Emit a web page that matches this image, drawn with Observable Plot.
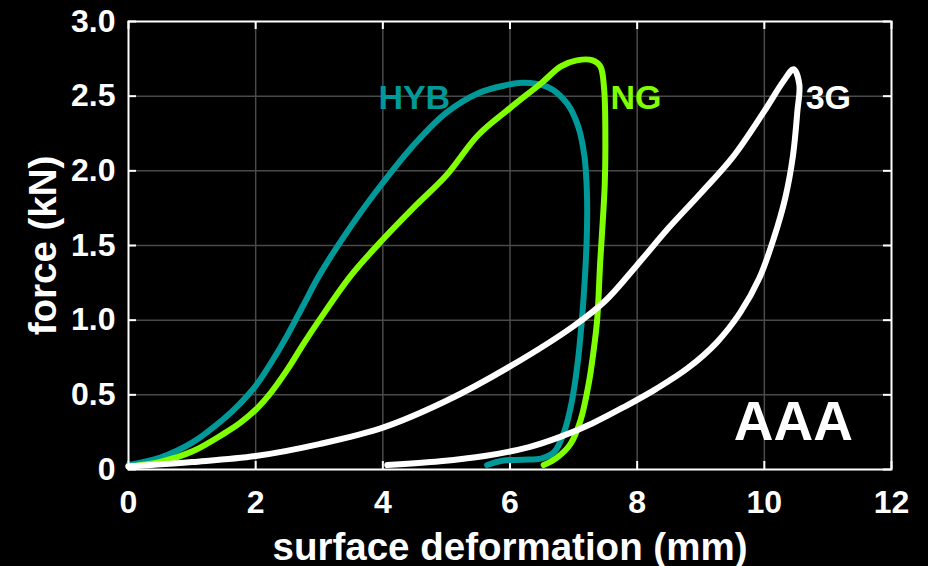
<!DOCTYPE html>
<html>
<head>
<meta charset="utf-8">
<script src="https://cdn.jsdelivr.net/npm/d3@7"></script>
<script src="https://cdn.jsdelivr.net/npm/@observablehq/plot@0.6"></script>
<style>
  html, body { margin: 0; padding: 0; background: #000; }
  #chart { width: 928px; height: 566px; }
</style>
</head>
<body>
<div id="chart"></div>
<script>
// X ticks and labels
const xTicks = [0, 2, 4, 6, 8, 10, 12];
const xTickLabels = ["0", "2", "4", "6", "8", "10", "12"];
// Y ticks and labels
const yTicks = [0, 0.5, 1.0, 1.5, 2.0, 2.5, 3.0];
const yTickLabels = ["0", "0.5", "1.0", "1.5", "2.0", "2.5", "3.0"];

// HYB: surface deformation (mm) / force (kN), loading then unloading
const hybX = [0, 0.5, 1.0, 1.5, 1.75, 2.0, 2.25, 2.5, 2.75, 3.0, 3.5, 4.0, 4.5, 5.0, 5.5, 5.9, 6.2, 6.6, 6.9, 7.07, 7.17, 7.21, 7.21, 7.18, 7.13, 7.06, 6.97, 6.85, 6.70, 6.50, 6.20, 5.90, 5.64];
const hybY = [0.03, 0.08, 0.18, 0.34, 0.44, 0.56, 0.72, 0.90, 1.10, 1.30, 1.63, 1.92, 2.18, 2.39, 2.52, 2.57, 2.59, 2.56, 2.45, 2.30, 2.10, 1.85, 1.60, 1.30, 1.00, 0.70, 0.45, 0.25, 0.12, 0.075, 0.065, 0.06, 0.03];

// NG
const ngX = [0, 0.5, 1.0, 1.5, 1.75, 2.0, 2.25, 2.5, 2.75, 3.0, 3.5, 4.0, 4.5, 5.0, 5.5, 6.0, 6.5, 6.8, 7.05, 7.30, 7.42, 7.48, 7.50, 7.49, 7.45, 7.42, 7.37, 7.31, 7.24, 7.11, 6.95, 6.74, 6.53];
const ngY = [0.02, 0.05, 0.12, 0.24, 0.31, 0.40, 0.52, 0.67, 0.84, 1.00, 1.30, 1.54, 1.76, 1.97, 2.24, 2.42, 2.59, 2.70, 2.74, 2.74, 2.70, 2.55, 2.20, 1.91, 1.60, 1.40, 1.00, 0.78, 0.58, 0.33, 0.17, 0.08, 0.03];

// 3G
const g3X = [0, 1.0, 2.0, 3.0, 4.0, 5.0, 6.0, 7.0, 7.5, 8.0, 8.5, 9.0, 9.5, 10.0, 10.3, 10.46, 10.55, 10.52, 10.45, 10.33, 10.15, 9.92, 9.62, 9.25, 8.80, 8.30, 7.80, 7.30, 6.80, 6.30, 5.60, 4.90, 4.07];
const g3Y = [0.02, 0.05, 0.09, 0.17, 0.28, 0.46, 0.69, 0.96, 1.13, 1.37, 1.62, 1.85, 2.09, 2.40, 2.60, 2.68, 2.58, 2.40, 2.10, 1.82, 1.55, 1.28, 1.05, 0.85, 0.68, 0.54, 0.42, 0.31, 0.22, 0.15, 0.09, 0.055, 0.03];

// Series names, colours, label anchor points (data units)
const seriesNames = ["HYB", "NG", "3G"];
const seriesColors = ["#009999", "#7fff00", "#ffffff"];
const labelX = [3.93, 7.58, 10.65];
const labelY = [2.49, 2.49, 2.49];

const panelLabel = "AAA";
const panelLabelX = 9.52;
const panelLabelY = 0.315;

const xLabel = "surface deformation (mm)";
const yLabel = "force (kN)";

const xDomain = [0, 12];
const yDomain = [0, 3];

// Build tables
const seriesXs = [hybX, ngX, g3X];
const seriesYs = [hybY, ngY, g3Y];
const rows = [];
seriesNames.forEach((name, s) => {
  seriesXs[s].forEach((x, i) => rows.push({series: name, x, y: seriesYs[s][i], i}));
});
const labels = seriesNames.map((name, s) => ({name, x: labelX[s], y: labelY[s], color: seriesColors[s]}));

const FONT = "'Liberation Sans', Arial, Helvetica, sans-serif";
const W = 928, H = 566, ML = 128, MR = 37, MT = 21, MB = 97, TICK = 8;
const innerW = W - ML - MR, innerH = H - MT - MB;
// tick length expressed in data units (derived from the frame size)
const tickDX = TICK / innerW * (xDomain[1] - xDomain[0]);
const tickDY = TICK / innerH * (yDomain[1] - yDomain[0]);

const tickStyle = {stroke: "#fff", strokeOpacity: 1, strokeWidth: 2};

const chart = Plot.plot({
  width: W,
  height: H,
  marginLeft: ML,
  marginRight: MR,
  marginTop: MT,
  marginBottom: MB,
  style: {background: "#000", color: "#fff", fontFamily: FONT, fontWeight: "bold", overflow: "visible"},
  x: {domain: xDomain, axis: null},
  y: {domain: yDomain, axis: null},
  color: {domain: seriesNames, range: seriesColors},
  marks: [
    Plot.gridX(xTicks.slice(1, -1), {stroke: "#4a4a4a", strokeOpacity: 1, strokeWidth: 1.5}),
    Plot.gridY(yTicks.slice(1, -1), {stroke: "#4a4a4a", strokeOpacity: 1, strokeWidth: 1.5}),
    // inward ticks on all four sides
    Plot.ruleX(xTicks, {x: (d) => d, y1: yDomain[0], y2: yDomain[0] + tickDY, ...tickStyle}),
    Plot.ruleX(xTicks, {x: (d) => d, y1: yDomain[1] - tickDY, y2: yDomain[1], ...tickStyle}),
    Plot.ruleY(yTicks, {y: (d) => d, x1: xDomain[0], x2: xDomain[0] + tickDX, ...tickStyle}),
    Plot.ruleY(yTicks, {y: (d) => d, x1: xDomain[1] - tickDX, x2: xDomain[1], ...tickStyle}),
    // tick labels
    Plot.axisX(xTicks, {anchor: "bottom", tickSize: 0, tickPadding: 21, fill: "#fff", fontSize: 32, fontWeight: "bold",
      tickFormat: (d) => xTickLabels[xTicks.indexOf(d)], label: null}),
    Plot.axisY(yTicks, {anchor: "left", tickSize: 0, tickPadding: 13, fill: "#fff", fontSize: 32, fontWeight: "bold",
      tickFormat: (d) => yTickLabels[yTicks.indexOf(d)], label: null}),
    Plot.line(rows, {x: "x", y: "y", z: "series", stroke: "series", strokeWidth: 6, curve: "catmull-rom",
      strokeLinejoin: "round", strokeLinecap: "round"}),
    Plot.frame({stroke: "#fff", strokeWidth: 2}),
    Plot.text(labels, {x: "x", y: "y", text: "name", fill: "color", textAnchor: "start", fontSize: 34, fontWeight: "bold"}),
    Plot.text([panelLabel], {x: () => panelLabelX, y: () => panelLabelY, text: (d) => d, fill: "#fff", textAnchor: "start", fontSize: 55, fontWeight: "bold"}),
    Plot.text([xLabel], {frameAnchor: "bottom", textAnchor: "middle", dy: 90, text: (d) => d, fill: "#fff", fontSize: 38.5, fontWeight: "bold"}),
    Plot.text([yLabel], {frameAnchor: "left", textAnchor: "middle", dx: -85, rotate: -90, text: (d) => d, fill: "#fff", fontSize: 38.5, fontWeight: "bold"})
  ]
});
document.getElementById("chart").appendChild(chart);
</script>
</body>
</html>
